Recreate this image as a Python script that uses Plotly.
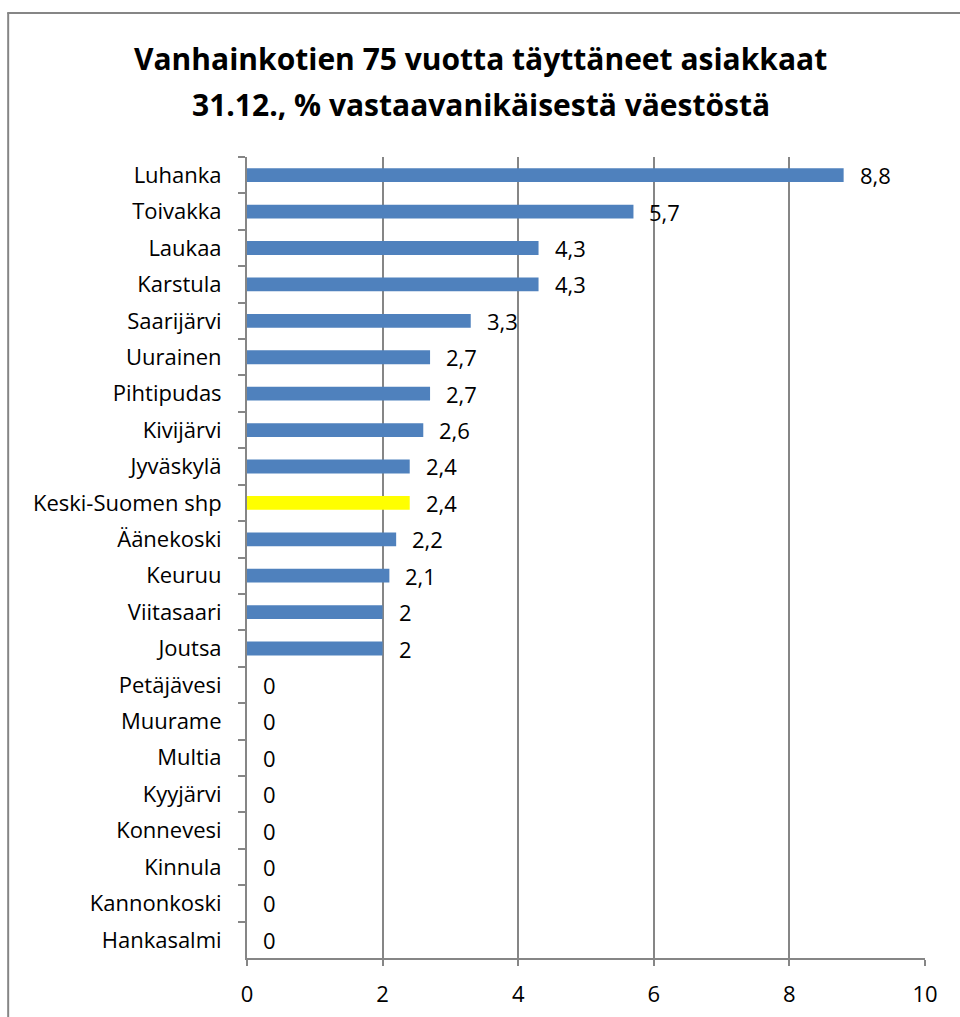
import plotly.graph_objects as go

categories = ["Luhanka", "Toivakka", "Laukaa", "Karstula", "Saarijärvi", "Uurainen",
              "Pihtipudas", "Kivijärvi", "Jyväskylä", "Keski-Suomen shp", "Äänekoski",
              "Keuruu", "Viitasaari", "Joutsa", "Petäjävesi", "Muurame", "Multia",
              "Kyyjärvi", "Konnevesi", "Kinnula", "Kannonkoski", "Hankasalmi"]
values = [8.8, 5.7, 4.3, 4.3, 3.3, 2.7, 2.7, 2.6, 2.4, 2.4, 2.2, 2.1, 2.0, 2.0,
          0, 0, 0, 0, 0, 0, 0, 0]
highlight = "Keski-Suomen shp"
x_ticks = [0, 2, 4, 6, 8, 10]

title_lines = ["Vanhainkotien 75 vuotta täyttäneet asiakkaat",
               "31.12., % vastaavanikäisestä väestöstä"]

FONT = "'Open Sans', 'Noto Sans', sans-serif"
colors = ["#FFFF00" if c == highlight else "#4F81BD" for c in categories]
labels = [f"{v:g}".replace(".", ",") for v in values]

fig = go.Figure(go.Bar(
    x=values, y=categories, orientation="h",
    marker=dict(color=colors, line=dict(width=0)),
    width=0.38, hoverinfo="skip",
))

# page coordinates (body margin removed by post_script)
L, R, T, B = 247, 925.5, 157, 958
W, H = 960, 1017
def px(x): return (x - L) / (R - L)
def py(y): return (B - y) / (B - T)

annotations = [dict(x=v, y=c, xref="x", yref="y", text=t, showarrow=False,
                    xanchor="left", yanchor="middle", xshift=14,
                    font=dict(family=FONT, size=22, color="#000000"))
               for c, v, t in zip(categories, values, labels)]

for line, yc in zip(title_lines, [59, 104]):
    annotations.append(dict(x=px(481), y=py(yc), xref="paper", yref="paper", text=line,
                            showarrow=False, xanchor="center", yanchor="middle",
                            font=dict(family=FONT, size=30, color="#000000", weight="bold")))

shapes = [
    dict(type="line", xref="paper", yref="paper", x0=px(8), x1=px(8), y0=py(13), y1=py(1030),
         line=dict(color="#868686", width=2)),
    dict(type="line", xref="paper", yref="paper", x0=px(7), x1=px(975), y0=py(13), y1=py(13),
         line=dict(color="#868686", width=2)),
]

fig.update_layout(
    width=W, height=H,
    margin=dict(l=L, r=W - R, t=T, b=H - B, pad=0, autoexpand=False),
    paper_bgcolor="white", plot_bgcolor="white",
    showlegend=False,
    font=dict(family=FONT, size=22, color="#000000"),
    xaxis=dict(range=[0, 10], tickvals=x_ticks, ticktext=[str(t) for t in x_ticks],
               showgrid=True, gridcolor="#868686", gridwidth=2,
               showline=True, linecolor="#868686", linewidth=2,
               ticks="outside", ticklen=6, tickcolor="#868686", tickwidth=2,
               zeroline=False, layer="above traces", ticklabelstandoff=10,
               automargin=False,
               tickfont=dict(family=FONT, size=22, color="#000000"), fixedrange=True),
    yaxis=dict(autorange="reversed", type="category",
               showline=True, linecolor="#868686", linewidth=2,
               ticks="outside", ticklen=7, tickcolor="#868686", tickwidth=2,
               tickson="boundaries", showgrid=False, ticklabelstandoff=19,
               automargin=False,
               tickfont=dict(family=FONT, size=22, color="#000000"), fixedrange=True),
    annotations=annotations,
    shapes=shapes,
)

fig.write_html("out.html", config={"displayModeBar": False},
               post_script="document.body.style.margin='0';document.body.style.overflow='hidden';")
